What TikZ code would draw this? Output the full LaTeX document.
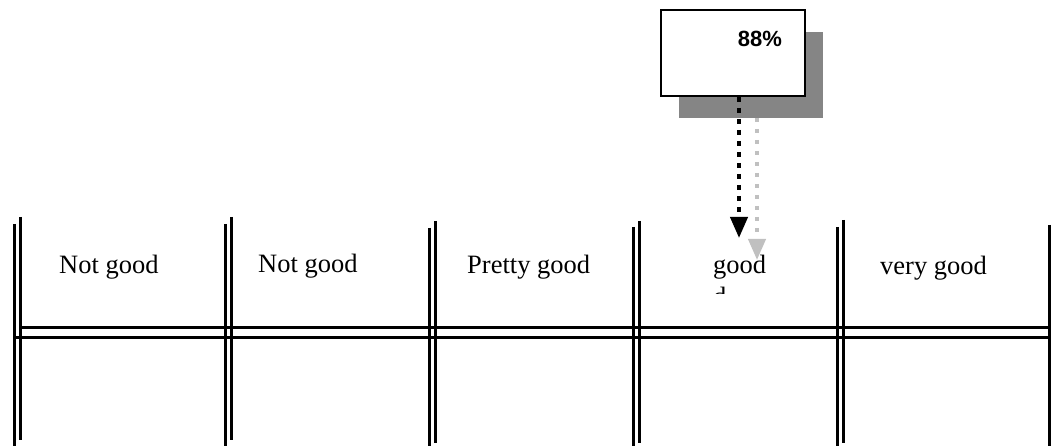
\documentclass[tikz,border=0pt]{standalone}
\usepackage{fontspec}
\setmainfont{Liberation Serif}
\newfontfamily\labelsans{Liberation Sans}
\usetikzlibrary{arrows.meta}
\definecolor{shadowgray}{HTML}{858585}
\definecolor{lightarrow}{HTML}{C0C0C0}
\tikzset{
  rule/.style={line width=3pt, line cap=butt},
  celltext/.style={font=\fontsize{26.5}{30}\selectfont, inner sep=0pt, anchor=base west},
  scorebox/.style={draw=black, line width=2pt, fill=white},
  darkdots/.style={line width=4pt, dash pattern=on 5pt off 6pt,
    -{Triangle[width=17pt,length=21pt]}},
  lightdots/.style={lightarrow, line width=4pt, dash pattern=on 4pt off 7pt,
    -{Triangle[width=17pt,length=21pt]}}
}
\begin{document}
\begin{tikzpicture}[x=1pt,y=-1pt]
\useasboundingbox (0,0) rectangle (1051,446);

% score box with its drop shadow
\fill[shadowgray] (679,32) rectangle (823,118);
\draw[scorebox] (661,10) rectangle (805,96);
\node[font=\labelsans\bfseries\fontsize{22}{26}\selectfont, inner sep=0pt, anchor=base]
  (score) at (760,47) {88\%};
\coordinate (darkstart) at (739,97);
\coordinate (lightstart) at (757,118);

% column separators: double rules
\foreach \xa/\ta/\ba/\xb/\tb/\bb in
  {14/224/446/20/217/440, 225/224/446/231/217/440, 429/228/446/435/221/443,
   633/227/446/639/221/443, 837/227/446/843/220/443}{
  \draw[rule] (\xa,\ta) -- (\xa,\ba);
  \draw[rule] (\xb,\tb) -- (\xb,\bb);
}
\draw[rule] (1049,225) -- (1049,446);

% horizontal double rule
\draw[rule] (20,327.5) -- (1051,327.5);
\draw[rule] (14,337.5) -- (1051,337.5);

% rating labels
\node[celltext] (c1) at (59,273) {Not good};
\node[celltext] (c2) at (258,272) {Not good};
\node[celltext] (c3) at (467,273) {Pretty good};
\node[celltext] (c4) at (713,273) {good};
\node[celltext] (c5) at (880,274) {very good};
\begin{scope}
  \clip (700,286) rectangle (740,293);
  \node[celltext] (c4b) at (713,305) {d};
\end{scope}

% pointer arrows
\coordinate (darktip) at (739,238);
\coordinate (lighttip) at (757,260);
\draw[lightdots] (lightstart) -- (lighttip);
\draw[darkdots] (darkstart) -- (darktip);
\end{tikzpicture}
\end{document}
